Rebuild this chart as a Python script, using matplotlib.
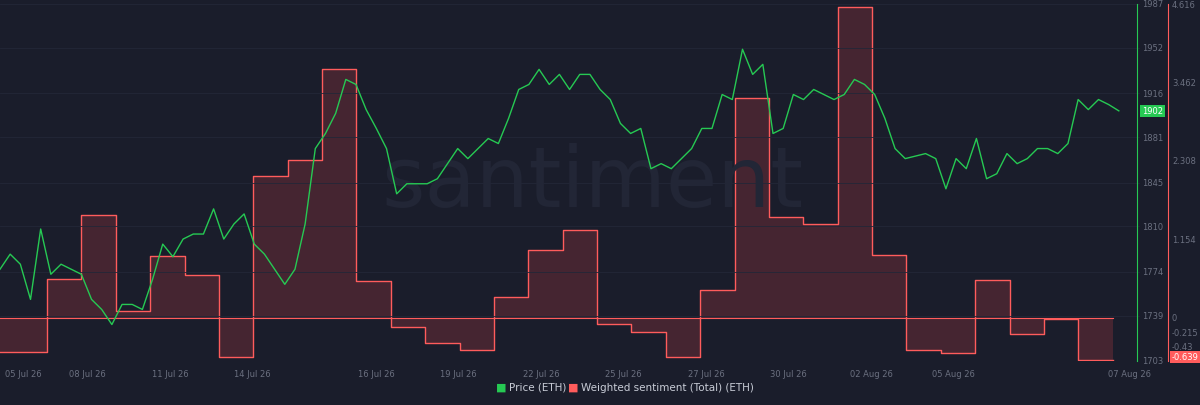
import numpy as np
import matplotlib.pyplot as plt

price = [1776, 1788, 1780, 1752, 1808, 1772, 1780, 1776, 1772, 1752, 1744, 1732, 1748, 1748, 1744,
         1768, 1796, 1786, 1800, 1804, 1804, 1824, 1800, 1812, 1820, 1796, 1788, 1776, 1764, 1776,
         1812, 1872, 1884, 1900, 1927, 1923, 1903, 1888, 1872, 1836, 1844, 1844, 1844, 1848, 1860,
         1872, 1864, 1872, 1880, 1876, 1896, 1919, 1923, 1935, 1923, 1931, 1919, 1931, 1931, 1919,
         1911, 1892, 1884, 1888, 1856, 1860, 1856, 1864, 1872, 1888, 1888, 1915, 1911, 1951, 1931,
         1939, 1884, 1888, 1915, 1911, 1919, 1915, 1911, 1915, 1927, 1923, 1915, 1896, 1872, 1864,
         1866, 1868, 1864, 1840, 1864, 1856, 1880, 1848, 1852, 1868, 1860, 1864, 1872, 1872, 1868,
         1876, 1911, 1903, 1911, 1907, 1902]
price_days = np.linspace(-0.18, 40.5, len(price))

sentiment = [-0.51, 0.57, 1.51, 0.10, 0.91, 0.63, -0.58, 2.09, 2.32, 3.66, 0.54, -0.14, -0.37,
             -0.48, 0.30, 1.00, 1.29, -0.10, -0.21, -0.58, 0.41, 3.23, 1.48, 1.38, 4.57, 0.92,
             -0.48, -0.52, 0.55, -0.24, -0.02, -0.62]
step = 1.25
sent_edges = 0.28 + step * np.arange(len(sentiment) + 1)
sent_edges[0] = -0.18

tick_days = [0, 3, 6, 9, 13.5, 16.5, 19.5, 22.5, 25.5, 28.5, 31.5, 34.5, 40.9]
tick_labels = ['05 Jul 26', '08 Jul 26', '11 Jul 26', '14 Jul 26', '16 Jul 26', '19 Jul 26',
               '22 Jul 26', '25 Jul 26', '27 Jul 26', '30 Jul 26', '02 Aug 26', '05 Aug 26',
               '07 Aug 26']
price_ticks = [1703, 1739, 1774, 1810, 1845, 1881, 1916, 1952, 1987]
sent_ticks = [-0.43, -0.215, 0, 1.154, 2.308, 3.462, 4.616]

bg = '#1a1d2b'
green = '#26c953'
red = '#ff5c5c'
grey = '#6b7080'

fig = plt.figure(figsize=(12, 4.06), dpi=100, facecolor=bg)
ax = fig.add_axes([0, 1 - 362 / 406, 1140 / 1200, 357 / 406])
ax.set_facecolor(bg)
ax2 = ax.twinx()

# sentiment steps
vals = np.array(sentiment + [sentiment[-1]])
ax2.fill_between(sent_edges, 0, vals, step='post', color='#4a2632', alpha=0.9, lw=0)
ax2.step(sent_edges, vals, where='post', color=red, lw=1)
ax2.axhline(0, color=red, lw=0.8, xmax=(sent_edges[-1] + 0.18) / 41.45)
ax2.set_ylim(-0.639, 4.616)

ax.plot(price_days, price, color=green, lw=1, zorder=5)
ax.set_zorder(ax2.get_zorder() + 1)
ax.patch.set_visible(False)
ax.set_ylim(1703, 1987)
ax.set_xlim(-0.18, 41.27)

for a in (ax, ax2):
    for s in a.spines.values():
        s.set_visible(False)
    a.set_yticks([])
ax.set_xticks(tick_days)
ax.set_xticklabels(tick_labels, color=grey, fontsize=6)
ax.get_xticklabels()[0].set_ha('left')
ax.tick_params(axis='x', length=0, pad=6)
for t in price_ticks:
    ax.axhline(t, color='#232737', lw=0.6, zorder=0)

# right-side axes
fig.add_artist(plt.Line2D([1137 / 1200] * 2, [1 - 362 / 406, 1 - 5 / 406], color=green, lw=0.8))
fig.add_artist(plt.Line2D([1168 / 1200] * 2, [1 - 362 / 406, 1 - 5 / 406], color=red, lw=0.8))
for t in price_ticks:
    y = ax.transData.transform((0, t))[1] / fig.bbox.height
    fig.text(1142 / 1200, y, str(t), color=grey, fontsize=6, va='center')
for t in sent_ticks:
    y = ax2.transData.transform((0, t))[1] / fig.bbox.height
    fig.text(1172 / 1200, y, f'{t:g}', color=grey, fontsize=6, va='center')
y = ax.transData.transform((0, price[-1]))[1] / fig.bbox.height
fig.text(1142 / 1200, y, str(price[-1]), color='white', fontsize=6, va='center',
         bbox=dict(boxstyle='square,pad=0.2', fc=green, ec='none'))
y = ax2.transData.transform((0, -0.639))[1] / fig.bbox.height
fig.text(1172 / 1200, y + 0.01, '-0.639', color='white', fontsize=6, va='center',
         bbox=dict(boxstyle='square,pad=0.2', fc=red, ec='none'))

ax.text(0.52, 0.5, 'santiment', transform=ax.transAxes, fontsize=60, color='#222636',
        ha='center', va='center', zorder=0)

fig.text(0.413, 0.045, '■', color=green, fontsize=8, va='center')
fig.text(0.424, 0.045, 'Price (ETH)', color='#c8ccd6', fontsize=7.5, va='center')
fig.text(0.473, 0.045, '■', color=red, fontsize=8, va='center')
fig.text(0.484, 0.045, 'Weighted sentiment (Total) (ETH)', color='#c8ccd6', fontsize=7.5, va='center')

fig.savefig('out.png', dpi=100, facecolor=bg)
